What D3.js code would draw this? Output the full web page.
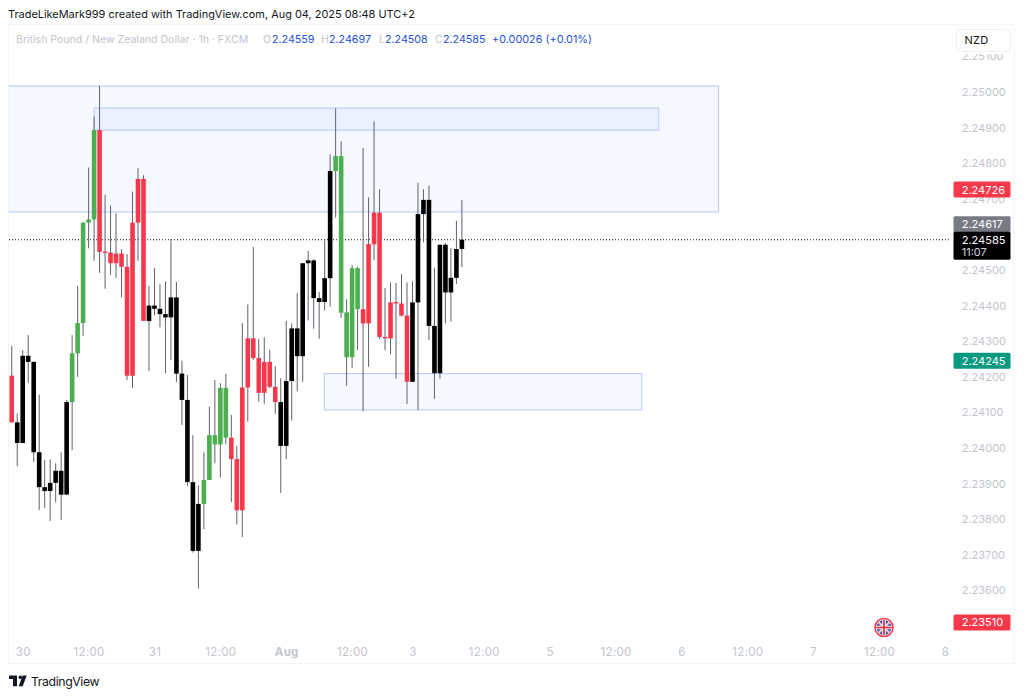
<!DOCTYPE html>
<html><head><meta charset="utf-8">
<script src="https://cdn.jsdelivr.net/npm/d3@7"></script>
<style>html,body{margin:0;padding:0;background:#fff}svg{display:block}text{font-family:Inter,"Noto Sans",sans-serif}</style>
</head><body><svg id="c" width="1024" height="697"></svg>
<script>
const highs=[2.24287,2.24097,2.24275,2.24317,2.24242,2.24150,2.23966,2.23968,2.23957,2.23988,2.24135,2.24317,2.24455,2.24635,2.24788,2.24931,2.25017,2.24711,2.24681,2.24659,2.24559,2.24545,2.24720,2.24786,2.24766,2.24455,2.24506,2.24460,2.24468,2.24586,2.24467,2.24245,2.24205,2.24036,2.23895,2.23988,2.24116,2.24191,2.24182,2.24208,2.24093,2.24006,2.24351,2.24403,2.24565,2.24306,2.24311,2.24275,2.24230,2.24196,2.24357,2.24350,2.24435,2.24519,2.24554,2.24530,2.24438,2.24586,2.24825,2.24954,2.24862,2.24418,2.24514,2.24509,2.24843,2.24704,2.24917,2.24727,2.24449,2.24465,2.24464,2.24489,2.24465,2.24468,2.24745,2.24727,2.24737,2.24505,2.24571,2.24576,2.24561,2.24638,2.24697];
const bodyTops=[2.24203,2.24072,2.24259,2.24259,2.24242,2.23988,2.23890,2.23902,2.23936,2.23936,2.24129,2.24266,2.24351,2.24633,2.24642,2.24893,2.24893,2.24552,2.24549,2.24546,2.24546,2.24509,2.24633,2.24756,2.24756,2.24400,2.24400,2.24391,2.24376,2.24423,2.24423,2.24209,2.24135,2.23904,2.23843,2.23910,2.24036,2.24036,2.24169,2.24169,2.24029,2.23969,2.24170,2.24308,2.24308,2.24253,2.24242,2.24242,2.24172,2.24129,2.24188,2.24336,2.24336,2.24519,2.24527,2.24527,2.24421,2.24477,2.24778,2.24820,2.24820,2.24381,2.24505,2.24505,2.24390,2.24573,2.24661,2.24661,2.24312,2.24409,2.24410,2.24406,2.24372,2.24409,2.24657,2.24697,2.24697,2.24343,2.24571,2.24571,2.24478,2.24559,2.24585];
const bodyBottoms=[2.24072,2.24014,2.24014,2.24242,2.23988,2.23890,2.23879,2.23879,2.23902,2.23869,2.23869,2.24129,2.24266,2.24351,2.24633,2.24642,2.24551,2.24548,2.24519,2.24519,2.24509,2.24203,2.24203,2.24633,2.24357,2.24357,2.24391,2.24376,2.24367,2.24367,2.24209,2.24135,2.23904,2.23711,2.23711,2.23843,2.23910,2.24010,2.24010,2.24029,2.23969,2.23825,2.23825,2.24170,2.24253,2.24155,2.24155,2.24172,2.24129,2.24006,2.24006,2.24188,2.24258,2.24258,2.24519,2.24421,2.24410,2.24410,2.24477,2.24778,2.24380,2.24255,2.24255,2.24390,2.24350,2.24350,2.24572,2.24312,2.24308,2.24308,2.24406,2.24372,2.24186,2.24186,2.24409,2.24657,2.24343,2.24210,2.24210,2.24437,2.24437,2.24478,2.24559];
const lows=[2.24072,2.23949,2.24014,2.24183,2.23961,2.23826,2.23832,2.23795,2.23847,2.23798,2.23869,2.23994,2.24200,2.24315,2.24561,2.24526,2.24492,2.24447,2.24486,2.24478,2.24423,2.24191,2.24169,2.24526,2.24357,2.24216,2.24373,2.24339,2.24210,2.24247,2.24185,2.24065,2.23893,2.23706,2.23605,2.23772,2.23910,2.23957,2.23917,2.24010,2.23848,2.23785,2.23750,2.24074,2.24247,2.24130,2.24124,2.24168,2.24096,2.23874,2.23969,2.24077,2.24159,2.24186,2.24358,2.24335,2.24307,2.24386,2.24397,2.24647,2.24366,2.24175,2.24225,2.24275,2.24103,2.24228,2.24528,2.24306,2.24275,2.24263,2.24195,2.24369,2.24124,2.24186,2.24107,2.24578,2.24303,2.24138,2.24195,2.24350,2.24355,2.24461,2.24508];
const candleKinds="rkkkkkkkkkkgggggrrrrrrrrrkkkkkkkkkkgggggrrrrrrrrrkkkkkkkkkkgggggrrrrrrrrrkkkkkkkkkk".split("");
const kindColors={r:"#f7384b",g:"#4caf50",k:"#000000"};

const priceTicks=[2.251,2.250,2.249,2.248,2.247,2.246,2.245,2.244,2.243,2.242,2.241,2.240,2.239,2.238,2.237,2.236];
const timeTickIndex=[2,14,26,38,50,62,73,86,98,110,122,134,146,158,170];
const timeTickLabels=["30","12:00","31","12:00","Aug","12:00","3","12:00","5","12:00","6","12:00","7","12:00","8"];

const zoneNames=["outer","inner","lower"];
const zoneStart=[-3,15,56.95];
const zoneEnd=[128.77,117.86,114.77];
const zoneTop=[2.25017,2.24955,2.24209];
const zoneBottom=[2.24663,2.24893,2.24107];

const tagPrices=[2.24726,2.24617,2.24245,2.23510];
const tagNudge=[0,-4,0,0];
const tagFills=["#f7384b","#787b86","#089981","#f7384b"];
const lastPrice=2.24585;
const countdown="11:07";
const ohlcLetters=["O","H","L","C"];
const ohlcValues=["2.24559","2.24697","2.24508","2.24585"];
const changeText="+0.00026 (+0.01%)";

const svg=d3.select("#c");
const x=d3.scaleLinear().domain([0,170]).range([11.74,945]);
const y=d3.scaleLinear().domain([2.25,2.24]).range([92,448]);
const fmt=d3.format(".5f");

svg.append("rect").attr("x",8.5).attr("y",24.5).attr("width",1005.5).attr("height",639)
  .attr("fill","#fff").attr("stroke","#f4f4f6");

svg.append("clipPath").attr("id","pane").append("rect").attr("x",9).attr("y",25).attr("width",944).attr("height",620);
const pane=svg.append("g").attr("clip-path","url(#pane)");

pane.selectAll("rect.zone").data(zoneNames).join("rect").attr("class","zone")
  .attr("x",(d,i)=>x(zoneStart[i])).attr("y",(d,i)=>y(zoneTop[i]))
  .attr("width",(d,i)=>x(zoneEnd[i])-x(zoneStart[i]))
  .attr("height",(d,i)=>y(zoneBottom[i])-y(zoneTop[i]))
  .attr("fill","rgba(41,98,255,0.048)").attr("stroke","#b6c8fa").attr("stroke-width",1);

pane.append("line").attr("x1",9).attr("x2",951).attr("y1",y(lastPrice)).attr("y2",y(lastPrice))
  .attr("stroke","#131722").attr("stroke-width",1).attr("stroke-dasharray","1 2");

const bars=pane.selectAll("g.candle").data(highs).join("g").attr("class","candle");
bars.append("line").attr("x1",(d,i)=>x(i)).attr("x2",(d,i)=>x(i))
  .attr("y1",(d,i)=>y(highs[i])).attr("y2",(d,i)=>y(lows[i]))
  .attr("stroke","#5f626d").attr("stroke-width",1);
bars.append("rect").attr("x",(d,i)=>x(i)-2.3).attr("width",4.6)
  .attr("y",(d,i)=>y(bodyTops[i])).attr("height",(d,i)=>Math.max(1,y(bodyBottoms[i])-y(bodyTops[i])))
  .attr("fill",(d,i)=>kindColors[candleKinds[i]]);

const yAxis=d3.axisRight(y).tickValues(priceTicks).tickFormat(fmt).tickSize(0).tickPadding(0);
const yg=svg.append("g").attr("transform","translate(961.7,0)").call(yAxis);
yg.select(".domain").remove();
yg.selectAll("text").attr("fill","#c3c5cd").attr("font-size",11);

const xAxis=d3.axisBottom(x).tickValues(timeTickIndex).tickFormat((d,i)=>timeTickLabels[i]).tickSize(0).tickPadding(0);
const xg=svg.append("g").attr("transform","translate(0,647.5)").call(xAxis);
xg.select(".domain").remove();
xg.selectAll("text").attr("fill","#c3c5cd").attr("font-size",11.5).style("letter-spacing","0.3px")
  .attr("font-weight",(d,i)=>timeTickLabels[i]==="Aug"?700:400);

svg.append("rect").attr("x",953).attr("y",25).attr("width",60.5).attr("height",29).attr("fill","#fff");
svg.append("rect").attr("x",956.5).attr("y",29.5).attr("width",54).attr("height",22).attr("rx",4)
  .attr("fill","#fff").attr("stroke","#f0f0f3");
svg.append("text").attr("x",964.5).attr("y",44).attr("font-size",11).attr("fill","#131722").style("letter-spacing","0.3px").text("NZD");

const tagH=16;
svg.selectAll("rect.tag").data(tagPrices).join("rect").attr("class","tag")
  .attr("x",953.5).attr("width",57).attr("height",tagH).attr("rx",1.5)
  .attr("y",(d,i)=>y(d)+tagNudge[i]-tagH/2).attr("fill",(d,i)=>tagFills[i]);
svg.selectAll("text.tag").data(tagPrices).join("text").attr("class","tag")
  .attr("x",961.7).attr("y",(d,i)=>y(d)+tagNudge[i]+4).attr("font-size",11).attr("fill","#fff").text(fmt);
svg.append("rect").attr("x",953.5).attr("y",y(lastPrice)-8).attr("width",57).attr("height",28).attr("rx",1.5).attr("fill","#000");
svg.append("text").attr("x",961.7).attr("y",y(lastPrice)+4).attr("font-size",11).attr("fill","#fff").text(fmt(lastPrice));
svg.append("text").attr("x",961.7).attr("y",y(lastPrice)+16.4).attr("font-size",11).attr("fill","#d1d4dc").text(countdown);

svg.append("text").attr("x",8).attr("y",18).attr("font-size",10.95).attr("fill","#131722").text("TradeLikeMark999 created with TradingView.com, Aug 04, 2025 08:48 UTC+2");
svg.append("text").attr("x",16).attr("y",43).attr("font-size",10.55).attr("fill","#c3c5cd").text("British Pound / New Zealand Dollar · 1h · FXCM");
const letterX=[263,321,379,435], valueX=[272,329,385,443];
svg.selectAll("text.ol").data(ohlcLetters).join("text").attr("class","ol").attr("x",(d,i)=>letterX[i]).attr("y",43).attr("font-size",10.7).attr("fill","#c3c5cd").text(d=>d);
svg.selectAll("text.ov").data(ohlcValues).join("text").attr("class","ov").attr("x",(d,i)=>valueX[i]).attr("y",43).attr("font-size",10.7).attr("fill","#2450d8").text(d=>d);
svg.append("text").attr("x",492).attr("y",43).attr("font-size",10.85).attr("fill","#2450d8").text(changeText);

const flag=svg.append("g").attr("transform","translate(884,627.5)");
svg.append("clipPath").attr("id","flagc").append("circle").attr("cx",884).attr("cy",627.5).attr("r",7.5);
flag.append("circle").attr("r",9).attr("fill","#fff").attr("stroke","#f7384b").attr("stroke-width",1.6);
const fl=svg.append("g").attr("clip-path","url(#flagc)").append("g").attr("transform","translate(884,627.5)");
fl.append("circle").attr("r",8).attr("fill","#2a4fa8");
[[-8,-8,8,8],[-8,8,8,-8]].forEach(p=>{fl.append("line").attr("x1",p[0]).attr("y1",p[1]).attr("x2",p[2]).attr("y2",p[3]).attr("stroke","#f3c9cf").attr("stroke-width",2);});
fl.append("rect").attr("x",-8).attr("y",-1.8).attr("width",16).attr("height",3.6).attr("fill","#fff");
fl.append("rect").attr("x",-1.8).attr("y",-8).attr("width",3.6).attr("height",16).attr("fill","#fff");
fl.append("rect").attr("x",-8).attr("y",-0.9).attr("width",16).attr("height",1.8).attr("fill","#e0384b");
fl.append("rect").attr("x",-0.9).attr("y",-8).attr("width",1.8).attr("height",16).attr("fill","#e0384b");

const logo=svg.append("g").attr("transform","translate(9,675.5) scale(0.57)").attr("fill","#131722");
logo.append("path").attr("d","M14 0H0v6h7v13h7V0z");
logo.append("circle").attr("cx",20).attr("cy",3.2).attr("r",3.2);
logo.append("path").attr("d","M24 19h-7l7-19h7z");
svg.append("text").attr("x",31).attr("y",685.5).attr("font-size",12.3).attr("fill","#131722").style("letter-spacing","-0.4px").text("TradingView");
</script></body></html>
